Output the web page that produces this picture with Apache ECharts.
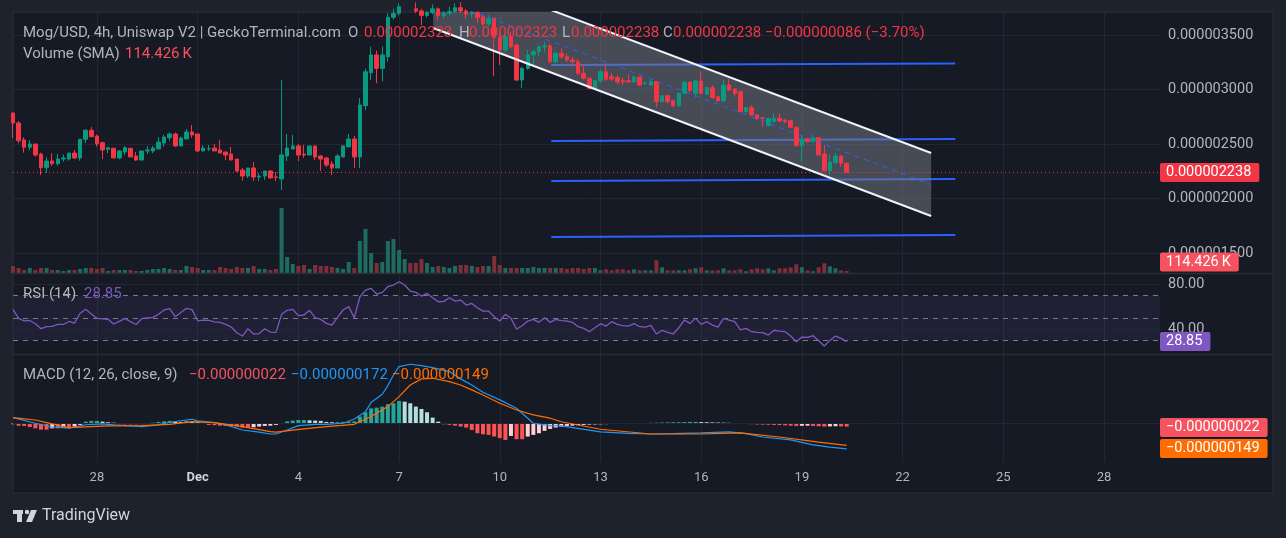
<!DOCTYPE html>
<html><head><meta charset="utf-8">
<script src="https://cdn.jsdelivr.net/npm/echarts@6/dist/echarts.min.js"></script>
<style>html,body{margin:0;padding:0;background:#1e222d;}#c{width:1286px;height:538px;}</style>
</head><body><div id="c"></div>
<script>
// ---- DATA (prices in units of 1e-9 USD, volume in K) ----
const START = Date.UTC(2024, 10, 25, 12);   // first 4h bar: Nov 25 12:00
const BAR_HOURS = 4;
const SLOTS = 206;                           // bars incl. empty future space
const monthNames = ['Jan','Feb','Mar','Apr','May','Jun','Jul','Aug','Sep','Oct','Nov','Dec'];
// [open, high, low, close]
const ohlc = [
[2784,2790,2555,2693],[2693,2711,2506,2530],[2537,2561,2420,2470],[2470,2537,2445,2500],[2500,2500,2383,2399],
[2408,2420,2216,2283],[2283,2378,2237,2344],[2344,2415,2298,2320],[2320,2408,2301,2362],[2362,2405,2338,2372],
[2362,2417,2347,2417],[2417,2445,2362,2372],[2372,2543,2347,2543],[2543,2635,2509,2626],[2626,2656,2567,2567],
[2573,2585,2475,2500],[2512,2521,2362,2445],[2451,2475,2417,2466],[2461,2461,2372,2372],[2372,2445,2360,2436],
[2427,2482,2396,2466],[2461,2466,2381,2381],[2390,2427,2344,2353],[2353,2436,2350,2436],[2436,2482,2408,2445],
[2436,2482,2415,2463],[2454,2564,2454,2518],[2509,2583,2475,2564],[2558,2604,2530,2592],[2592,2604,2475,2482],
[2482,2567,2482,2555],[2546,2638,2546,2610],[2610,2674,2558,2583],[2592,2592,2427,2436],[2436,2488,2436,2463],
[2454,2491,2436,2457],[2463,2500,2436,2436],[2445,2537,2417,2417],[2427,2427,2353,2399],[2408,2473,2353,2353],
[2362,2362,2243,2252],[2261,2280,2163,2206],[2206,2280,2188,2280],[2280,2335,2160,2197],[2197,2234,2160,2206],
[2206,2252,2170,2252],[2252,2261,2188,2188],[2197,2243,2160,2194],[2179,3087,2078,2399],[2390,2592,2344,2463],
[2454,2583,2454,2482],[2482,2500,2344,2399],[2408,2491,2372,2399],[2399,2482,2399,2482],[2482,2482,2353,2381],
[2390,2399,2252,2362],[2372,2381,2289,2307],[2316,2344,2216,2280],[2280,2408,2280,2390],[2381,2491,2381,2482],
[2473,2592,2473,2546],[2546,2573,2280,2381],[2381,2922,2280,2858],[2852,3190,2810,3163],[3154,3393,3087,3317],
[3317,3356,3057,3194],[3194,3393,3074,3317],[3301,3699,3255,3662],[3662,3740,3640,3699],[3699,3790,3680,3760],
[3760,3850,3730,3800],[3800,3830,3720,3740],[3740,3800,3700,3720],[3720,3740,3592,3680],[3680,3720,3660,3705],
[3705,3780,3690,3740],[3740,3750,3637,3680],[3680,3720,3650,3700],[3700,3760,3680,3715],[3715,3790,3700,3750],
[3750,3800,3700,3720],[3720,3740,3650,3690],[3690,3720,3660,3705],[3705,3720,3610,3660],[3670,3690,3580,3600],
[3600,3683,3576,3653],[3653,3660,3120,3480],[3480,3530,3225,3362],[3362,3500,3340,3484],[3484,3530,3380,3393],
[3408,3420,3080,3087],[3087,3210,3011,3194],[3194,3362,3180,3317],[3317,3370,3225,3347],[3347,3410,3300,3390],
[3390,3440,3340,3400],[3400,3420,3240,3255],[3255,3350,3240,3332],[3332,3380,3280,3301],[3301,3330,3250,3271],
[3271,3300,3210,3255],[3255,3280,3130,3149],[3149,3230,3090,3103],[3103,3110,3000,3011],[3011,3090,3000,3080],
[3080,3180,3060,3163],[3163,3240,3080,3094],[3120,3150,3080,3096],[3110,3130,3050,3069],[3085,3110,3040,3069],
[3081,3140,3060,3069],[3069,3130,3060,3115],[3115,3120,3030,3041],[3057,3075,3040,3060],[3041,3085,3035,3072],
[3072,3080,2837,2888],[2888,2950,2880,2943],[2943,2950,2870,2888],[2897,2905,2840,2851],[2851,2975,2840,2965],
[2965,3080,2955,3066],[3066,3075,2980,2989],[2965,3085,2930,3078],[3078,3163,2955,2965],[2956,3030,2950,3017],
[3017,3040,2915,2925],[2934,2940,2890,2895],[2895,3090,2890,3041],[3041,3096,2985,2995],[3004,3010,2934,2965],
[2980,2990,2790,2796],[2796,2840,2790,2833],[2833,2858,2760,2766],[2766,2770,2720,2736],[2740,2745,2660,2738],
[2668,2740,2660,2736],[2705,2782,2700,2736],[2736,2782,2700,2711],[2720,2725,2690,2705],[2714,2720,2645,2653],
[2653,2660,2480,2484],[2484,2575,2338,2546],[2546,2555,2515,2521],[2521,2583,2515,2558],[2558,2565,2395,2399],
[2408,2491,2250,2255],[2255,2400,2215,2332],[2332,2420,2310,2390],[2390,2395,2290,2324],[2323,2323,2238,2238]
];
const volumeK = [
403,288,173,288,173,288,288,173,173,115,173,173,230,288,288,230,288,115,173,173,
173,173,115,115,173,230,230,288,230,173,173,403,345,288,173,173,173,345,288,230,
345,288,288,403,230,230,173,230,3738,920,518,403,460,230,460,403,403,345,288,230,
633,288,1840,2530,1150,575,633,1840,1955,1323,805,575,575,805,575,345,403,345,288,403,
460,460,403,345,403,403,978,460,288,288,288,288,288,345,288,288,288,288,288,230,
288,288,230,288,288,155,213,155,213,213,155,213,155,155,155,730,328,155,155,155,
155,213,270,328,155,155,155,270,155,155,213,98,213,270,213,270,155,270,270,328,
500,328,155,98,328,558,385,270,155,114.426
];
const rsi = [
57.8,49.7,47.5,47.8,44.9,40.4,42.2,42.5,44.2,44.2,46.9,45.5,54.3,57.8,53.7,49.7,49.2,48.8,44.6,47.0,
49.7,46.7,44.2,49.4,50.0,50.6,53.3,57.2,58.4,51.2,55.0,58.7,57.5,47.5,48.1,47.8,46.5,46.0,44.3,42.0,
36.8,33.8,40.4,35.6,36.0,40.4,37.4,37.1,53.3,56.9,57.8,52.1,52.7,56.9,50.3,48.8,45.2,43.7,50.6,57.2,
60.2,50.3,69.1,75.1,76.6,71.5,73.0,78.1,79.6,82.6,79.6,74.2,73.0,69.7,72.1,68.2,64.6,64.9,68.2,65.2,
66.1,61.6,63.1,59.2,56.2,56.2,51.2,47.3,53.3,49.7,40.1,43.1,47.3,48.8,46.1,50.3,46.1,48.8,47.6,47.3,
46.1,42.2,40.7,37.7,41.3,44.9,42.8,46.7,44.3,43.1,42.8,44.9,42.2,41.9,43.4,35.7,39.0,37.1,35.7,41.3,
48.2,45.2,49.7,44.3,46.7,43.7,41.9,49.7,48.2,46.7,39.3,40.7,37.7,37.1,36.8,34.7,39.0,38.3,37.7,33.8,
28.7,32.9,32.6,34.1,29.6,24.9,29.9,33.8,31.7,28.85
];
// MACD (units of 1e-9): [bar index, value] readings
const macdLine = [[0,38],[4,0],[7,-25],[10,-33],[13,-10],[16,-4],[18,-11],[21,-18],[23,-22],[26,-11],[28,7],[31,22],[32,27],[33,16],[36,4],[38,-11],[41,-45],[44,-60],[46,-72],[47,-72],[49,-45],[51,-16],[54,-7],[56,-7],[59,0],[61,29],[63,78],[64,139],[66,195],[67,253],[68,324],[69,380],[71,396],[73,387],[75,374],[78,347],[80,298],[82,257],[84,208],[87,157],[90,101],[92,34],[93,0],[96,-16],[98,-18],[105,-58],[110,-68],[114,-72],[118,-70],[123,-65],[128,-58],[131,-70],[134,-92],[139,-112],[143,-145],[146,-160],[149,-172]];
const signalLine = [[0,38],[4,22],[7,-4],[10,-29],[14,-22],[17,-18],[23,-16],[28,-7],[32,11],[36,4],[41,-22],[46,-56],[47,-60],[52,-38],[56,-22],[61,-7],[64,45],[67,112],[69,179],[71,257],[73,298],[75,302],[78,280],[80,257],[82,224],[84,190],[87,134],[90,89],[93,56],[96,34],[98,10],[105,-40],[114,-72],[123,-72],[130,-65],[137,-92],[144,-126],[149,-149]];
const macdHist = [
-7,-16,-18,-25,-34,-43,-43,-34,-34,-29,-29,-22,-11,
11,16,16,11,7,4,
-2,-7,-7,-6,-6,-4,
4,9,13,16,11,9,16,11,7,
-4,-11,-13,-16,-18,-18,-22,-29,
-29,-27,-22,-18,-16,-11,-4,
13,18,22,22,20,18,16,
9,7,7,9,11,13,
45,74,100,105,112,128,134,150,145,134,112,96,74,38,11,
-7,-11,-16,-22,-29,-45,-67,-74,-78,-89,-100,-112,
-85,-107,-107,-89,-78,-67,-51,-38,-29,-22,
-18,-16,-13,-11,-9,-8,-7,-6,-5,-4,
-3,-2,-2,-1,2,3,4,5,6,7,
7,8,9,9,8,7,6,5,4,3,
2,-2,-4,-6,-8,-9,-10,-11,-12,-14,
-16,-18,-17,-16,-18,-20,-22,-21,-20,-21,
-22
];
// drawings: [bar index, price]
const channelLower = [[75.1,3564],[164.1,1839]];
const channelUpper = [[75.1,4136],[164.1,2417]];
const channelMid   = [[75.1,3850],[164.1,2128]];
const levelLines = [
  [[96.2,3225],[168.4,3238]],
  [[96.2,2527],[168.4,2546]],
  [[96.2,2161],[168.4,2179]],
  [[96.2,1647],[168.4,1665]]
];
const priceRange = [1316.5, 3711];
const volumeRange = [0, 15000];
const rsiRange = [17.7, 90.4];
const macdRange = [-260, 465];

// ---- helpers ----
const FONT = 'Roboto, "Noto Sans", sans-serif';
const categories = Array.from({length: SLOTS}, (_, i) => START + i * BAR_HOURS * 3600000);
const REF_DAY = Date.UTC(2024, 10, 28);
function isTick(i) {
  const t = categories[i]; const d = new Date(t);
  if (d.getUTCHours() !== 0) return false;
  const dn = Math.round((t - REF_DAY) / 86400000);
  return ((dn % 3) + 3) % 3 === 0;
}
function tickLabel(v) {
  const d = new Date(Number(v));
  return d.getUTCDate() === 1 ? '{m|' + monthNames[d.getUTCMonth()] + '}' : String(d.getUTCDate());
}
const fmt9 = v => (v < 0 ? '\u2212' : '') + (Math.abs(v) / 1e9).toFixed(9);
const UP = '#089981', DOWN = '#f23645';
const HIDDEN = {color: 'rgba(0,0,0,0)', width: 0};

const candleData = ohlc.map(r => [r[0], r[3], r[2], r[1]]);
const volData = volumeK.map((v, i) => ({value: v, itemStyle: {color: ohlc[i][3] >= ohlc[i][0] ? '#1f6b5f' : '#7e2f3a'}}));
const histData = macdHist.map((v, i) => {
  const p = i > 0 ? macdHist[i - 1] : v;
  let c;
  if (v >= 0) c = v >= p ? '#26a69a' : '#b2dfdb'; else c = v <= p ? '#ff5252' : '#ffcdd2';
  return {value: v, itemStyle: {color: c}};
});
const last = ohlc[ohlc.length - 1], prev = ohlc[ohlc.length - 2];
const chg = last[3] - prev[3];

function clipPoly(pts, x0, y0, x1, y1) {
  const clip = (poly, inside, inter) => {
    const out = [];
    for (let i = 0; i < poly.length; i++) {
      const a = poly[i], b = poly[(i + 1) % poly.length];
      const ia = inside(a), ib = inside(b);
      if (ia) { out.push(a); if (!ib) out.push(inter(a, b)); }
      else if (ib) out.push(inter(a, b));
    }
    return out;
  };
  const ix = (a, b, x) => [x, a[1] + (b[1] - a[1]) * (x - a[0]) / (b[0] - a[0])];
  const iy = (a, b, y) => [a[0] + (b[0] - a[0]) * (y - a[1]) / (b[1] - a[1]), y];
  let p = pts;
  p = clip(p, q => q[0] >= x0, (a, b) => ix(a, b, x0));
  p = clip(p, q => q[0] <= x1, (a, b) => ix(a, b, x1));
  p = clip(p, q => q[1] >= y0, (a, b) => iy(a, b, y0));
  p = clip(p, q => q[1] <= y1, (a, b) => iy(a, b, y1));
  return p;
}

const gridL = 13, gridW = 1147;
const xCat = (gi, showLabels) => ({
  type: 'category', gridIndex: gi, data: categories, boundaryGap: false,
  axisLine: {show: false}, axisTick: {show: false},
  axisLabel: showLabels ? {show: true, interval: isTick, formatter: tickLabel, color: '#b2b5be', fontSize: 13, fontFamily: FONT, margin: 9,
    rich: {m: {color: '#d1d4dc', fontWeight: 'bold', fontSize: 13, fontFamily: FONT}}} : {show: false},
  splitLine: {show: true, interval: isTick, lineStyle: {color: '#232733', width: 1}}
});

const chart = echarts.init(document.getElementById('c'), null, {renderer: 'canvas'});
const labelBadge = (bg, txt, extra) => Object.assign({show: true, position: 'end', distance: 0, formatter: txt, backgroundColor: bg, color: '#ffffff',
  fontSize: 14.5, fontFamily: FONT, padding: [2, 8, 2, 6], borderRadius: 2}, extra || {});

const HDR = '15px ' + FONT;
const txt = (x, y, text, fill, font) => ({type: 'text', z: 60, silent: true, x: x, y: y, style: {text: text, fill: fill, font: font || HDR, verticalAlign: 'middle'}});

chart.setOption({
  animation: false,
  backgroundColor: '#1e222d',
  textStyle: {fontFamily: FONT},
  grid: [
    {left: gridL, top: 12, width: gridW, height: 261},
    {left: gridL, top: 273, width: gridW, height: 81},
    {left: gridL, top: 354, width: gridW, height: 108}
  ],
  xAxis: [xCat(0, false), xCat(1, false), xCat(2, true),
    {type: 'value', gridIndex: 0, min: 0, max: SLOTS - 1, show: false}],
  yAxis: [
    {type: 'value', gridIndex: 0, position: 'right', min: priceRange[0], max: priceRange[1], splitNumber: 5,
      axisLine: {show: false}, axisTick: {show: false},
      axisLabel: {color: '#b2b5be', fontSize: 14.5, fontFamily: FONT, margin: 8, showMinLabel: false, showMaxLabel: false, formatter: v => fmt9(v)},
      splitLine: {lineStyle: {color: '#232733'}}},
    {type: 'value', gridIndex: 0, min: volumeRange[0], max: volumeRange[1], show: false},
    {type: 'value', gridIndex: 1, position: 'right', min: rsiRange[0], max: rsiRange[1],
      axisLine: {show: false}, axisTick: {show: false}, splitLine: {show: false},
      axisLabel: {color: '#b2b5be', fontSize: 14.5, fontFamily: FONT, margin: 8, showMinLabel: false, showMaxLabel: false,
        formatter: v => (v === 40 || v === 80) ? v.toFixed(2) : ''}},
    {type: 'value', gridIndex: 2, position: 'right', min: macdRange[0], max: macdRange[1],
      axisLine: {show: false}, axisTick: {show: false}, splitLine: {show: false}, axisLabel: {show: false}}
  ],
  series: [
    {type: 'line', xAxisIndex: 3, yAxisIndex: 0, data: levelLines[0], symbol: 'none', lineStyle: {color: '#2962ff', width: 2}, z: 1, silent: true},
    {type: 'line', xAxisIndex: 3, yAxisIndex: 0, data: levelLines[1], symbol: 'none', lineStyle: {color: '#2962ff', width: 2}, z: 1, silent: true},
    {type: 'line', xAxisIndex: 3, yAxisIndex: 0, data: levelLines[2], symbol: 'none', lineStyle: {color: '#2962ff', width: 2}, z: 1, silent: true},
    {type: 'line', xAxisIndex: 3, yAxisIndex: 0, data: levelLines[3], symbol: 'none', lineStyle: {color: '#2962ff', width: 2}, z: 1, silent: true},
    {type: 'custom', xAxisIndex: 3, yAxisIndex: 0, z: 2, silent: true, data: [[channelLower[0][0], channelLower[0][1]]],
      renderItem: (params, api) => {
        const cs = params.coordSys;
        const pts = [api.coord(channelUpper[0]), api.coord(channelUpper[1]), api.coord(channelLower[1]), api.coord(channelLower[0])];
        const poly = clipPoly(pts, cs.x, cs.y, cs.x + cs.width, cs.y + cs.height);
        return {type: 'polygon', shape: {points: poly}, style: {fill: 'rgba(120,123,134,0.5)'}};
      }},
    {type: 'bar', xAxisIndex: 0, yAxisIndex: 1, data: volData, barWidth: 4, z: 3, silent: true,
      markLine: {silent: true, symbol: 'none', data: [{yAxis: volumeK[volumeK.length - 1], lineStyle: HIDDEN,
        label: labelBadge('#f7525f', volumeK[volumeK.length - 1].toFixed(3) + '\u2009K', {offset: [0, -9]})}]}},
    {type: 'candlestick', xAxisIndex: 0, yAxisIndex: 0, data: candleData, barWidth: 4, z: 4,
      itemStyle: {color: UP, color0: DOWN, borderColor: UP, borderColor0: DOWN, borderWidth: 1},
      markLine: {silent: true, symbol: 'none', data: [{yAxis: last[3], lineStyle: {color: DOWN, type: [1, 3], width: 1},
        label: labelBadge(DOWN, fmt9(last[3]))}]}},
    {type: 'line', xAxisIndex: 3, yAxisIndex: 0, data: channelMid, symbol: 'none', lineStyle: {color: '#2962ff', width: 1, type: [5, 5]}, z: 5, silent: true},
    {type: 'line', xAxisIndex: 3, yAxisIndex: 0, data: channelUpper, symbol: 'none', lineStyle: {color: '#f0f3fa', width: 2}, z: 6, silent: true},
    {type: 'line', xAxisIndex: 3, yAxisIndex: 0, data: channelLower, symbol: 'none', lineStyle: {color: '#f0f3fa', width: 2}, z: 6, silent: true},
    {type: 'line', xAxisIndex: 1, yAxisIndex: 2, data: rsi, symbol: 'none', lineStyle: {color: '#7e57c2', width: 1.3}, z: 5, silent: true,
      markArea: {silent: true, itemStyle: {color: 'rgba(126,87,194,0.1)'}, data: [[{yAxis: 30}, {yAxis: 70}]]},
      markLine: {silent: true, symbol: 'none', label: {show: false}, data: [
        {yAxis: 80, lineStyle: {color: '#232733', type: 'solid', width: 1}},
        {yAxis: 40, lineStyle: {color: '#232733', type: 'solid', width: 1}},
        {yAxis: 70, lineStyle: {color: '#787b86', type: [5, 5], width: 1}},
        {yAxis: 50, lineStyle: {color: '#787b86', type: [5, 5], width: 1}},
        {yAxis: 30, lineStyle: {color: '#787b86', type: [5, 5], width: 1}},
        {yAxis: rsi[rsi.length - 1], lineStyle: HIDDEN, label: labelBadge('#7e57c2', rsi[rsi.length - 1].toFixed(2))}
      ]}},
    {type: 'bar', xAxisIndex: 2, yAxisIndex: 3, data: histData, barWidth: 4, z: 3, silent: true,
      markLine: {silent: true, symbol: 'none', data: [
        {yAxis: 0, lineStyle: {color: '#232733', type: 'solid', width: 1}, label: {show: false}},
        {yAxis: macdHist[macdHist.length - 1], lineStyle: HIDDEN, label: labelBadge('#f7525f', fmt9(macdHist[macdHist.length - 1]), {offset: [0, 1]})},
        {yAxis: signalLine[signalLine.length - 1][1], lineStyle: HIDDEN, label: labelBadge('#ff6d00', fmt9(signalLine[signalLine.length - 1][1]), {offset: [0, 3]})}
      ]}},
    {type: 'line', xAxisIndex: 2, yAxisIndex: 3, data: macdLine, symbol: 'none', lineStyle: {color: '#2196f3', width: 1.2}, z: 5, silent: true},
    {type: 'line', xAxisIndex: 2, yAxisIndex: 3, data: signalLine, symbol: 'none', lineStyle: {color: '#ff6d00', width: 1.2}, z: 5, silent: true}
  ],
  graphic: [
    {type: 'rect', z: -10, silent: true, shape: {x: 13, y: 12, width: 1260, height: 481}, style: {fill: '#161a25', stroke: '#2a2e39', lineWidth: 1}},
    {type: 'line', z: 50, silent: true, shape: {x1: 13, y1: 273.5, x2: 1273, y2: 273.5}, style: {stroke: '#2a2e39', lineWidth: 1.5}},
    {type: 'line', z: 50, silent: true, shape: {x1: 13, y1: 354.5, x2: 1273, y2: 354.5}, style: {stroke: '#2a2e39', lineWidth: 1.5}},
    txt(23, 33, 'Mog/USD, 4h, Uniswap V2 | GeckoTerminal.com', '#b2b5be'),
    txt(348, 33, 'O', '#b2b5be'),
    txt(364, 33, fmt9(last[0]), DOWN),
    txt(459, 33, 'H', '#b2b5be'),
    txt(469, 33, fmt9(last[1]), DOWN),
    txt(562, 33, 'L', '#b2b5be'),
    txt(571, 33, fmt9(last[2]), DOWN),
    txt(663, 33, 'C', '#b2b5be'),
    txt(673, 33, fmt9(last[3]), DOWN),
    txt(765, 33, fmt9(chg) + ' (' + (chg < 0 ? '\u2212' : '+') + Math.abs(chg / prev[3] * 100).toFixed(2) + '%)', DOWN),
    txt(23, 54, 'Volume (SMA)', '#b2b5be'),
    txt(125, 54, volumeK[volumeK.length - 1].toFixed(3) + '\u2009K', '#f7525f'),
    txt(23, 294, 'RSI (14)', '#b2b5be'),
    txt(84, 294, rsi[rsi.length - 1].toFixed(2), '#7e57c2'),
    txt(23, 375, 'MACD (12, 26, close, 9)', '#b2b5be'),
    txt(189, 375, fmt9(macdHist[macdHist.length - 1]), '#f7525f'),
    txt(291, 375, fmt9(macdLine[macdLine.length - 1][1]), '#2196f3'),
    txt(392, 375, fmt9(signalLine[signalLine.length - 1][1]), '#ff6d00'),
    {type: 'rect', z: 60, silent: true, shape: {x: 13, y: 510, width: 10, height: 4}, style: {fill: '#d1d4dc'}},
    {type: 'rect', z: 60, silent: true, shape: {x: 17, y: 510, width: 5, height: 12}, style: {fill: '#d1d4dc'}},
    {type: 'circle', z: 60, silent: true, shape: {cx: 27, cy: 512, r: 2.2}, style: {fill: '#d1d4dc'}},
    {type: 'polygon', z: 60, silent: true, shape: {points: [[31, 510], [37, 510], [32, 522], [26, 522]]}, style: {fill: '#d1d4dc'}},
    txt(42, 516, 'TradingView', '#d1d4dc', '16px ' + FONT)
  ]
});
</script></body></html>
